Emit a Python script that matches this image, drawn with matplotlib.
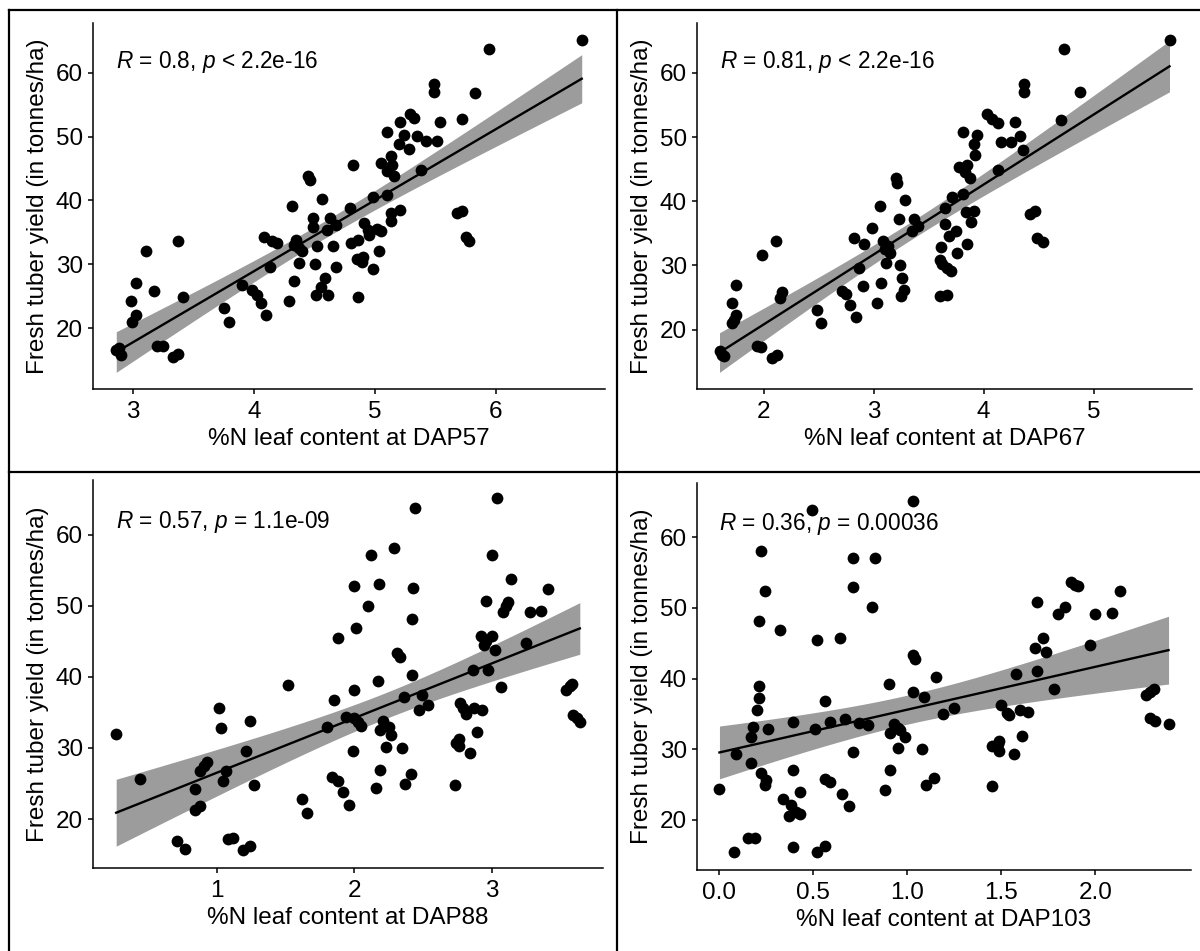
import numpy as np
import matplotlib
matplotlib.use("Agg")
import matplotlib.pyplot as plt
from matplotlib.ticker import FormatStrFormatter
from matplotlib.lines import Line2D
import matplotlib.transforms as mtransforms

plt.rcParams['font.family'] = ['Liberation Sans', 'DejaVu Sans']
plt.rcParams['mathtext.fontset'] = 'custom'
plt.rcParams['mathtext.it'] = 'Liberation Sans:italic'
plt.rcParams['mathtext.rm'] = 'Liberation Sans'

# %N leaf content vs fresh tuber yield
x57 = [2.86, 2.90, 2.88, 2.98, 2.99, 3.02, 3.02, 3.11, 3.17, 3.20,
       3.25, 3.33, 3.37, 3.37, 3.41, 3.75, 3.79, 3.90, 3.98, 4.02,
       4.06, 4.10, 4.08, 4.13, 4.15, 4.19, 4.29, 4.31, 4.33, 4.33,
       4.35, 4.37, 4.40, 4.37, 4.46, 4.45, 4.49, 4.49, 4.50, 4.52,
       4.51, 4.55, 4.56, 4.59, 4.60, 4.61, 4.63, 4.65, 4.68, 4.68,
       4.79, 4.80, 4.82, 4.86, 4.86, 4.85, 4.89, 4.90, 4.91, 4.94,
       4.95, 4.98, 4.98, 5.02, 5.03, 5.05, 5.10, 5.10, 5.13, 5.13,
       5.13, 5.05, 5.10, 5.14, 5.16, 5.21, 5.20, 5.21, 5.24, 5.28,
       5.29, 5.32, 5.35, 5.38, 5.42, 5.51, 5.49, 5.49, 5.54, 5.68,
       5.72, 5.72, 5.75, 5.78, 5.83, 5.94, 6.71]
y57 = [16.5, 15.8, 16.9, 24.2, 21.0, 22.0, 27.0, 32.0, 25.8, 17.2,
       17.2, 15.5, 16.0, 33.7, 24.8, 23.1, 21.0, 26.8, 26.0, 25.2,
       23.9, 22.0, 34.2, 29.6, 33.7, 33.3, 24.2, 39.2, 27.3, 33.0,
       33.8, 32.5, 32.0, 30.2, 43.2, 43.9, 37.2, 35.8, 30.0, 32.8,
       25.2, 26.5, 40.2, 27.8, 35.4, 25.2, 37.2, 32.8, 29.6, 36.2,
       38.8, 33.3, 45.5, 33.8, 24.8, 30.8, 30.4, 31.2, 36.5, 35.4,
       34.6, 40.6, 29.2, 35.6, 32.0, 35.2, 50.7, 40.9, 36.7, 38.0,
       47.0, 45.8, 44.6, 45.6, 43.8, 38.5, 48.8, 52.3, 50.3, 48.0,
       53.6, 52.9, 50.1, 44.8, 49.3, 49.3, 58.2, 57.0, 52.3, 38.0,
       38.4, 52.7, 34.3, 33.6, 56.9, 63.8, 65.2]

x67 = [1.60, 1.62, 1.64, 1.71, 1.71, 1.73, 1.75, 1.75, 1.99, 1.94,
       1.98, 2.08, 2.12, 2.11, 2.15, 2.17, 2.49, 2.52, 2.71, 2.75,
       2.79, 2.84, 2.82, 2.87, 2.90, 2.91, 2.99, 3.03, 3.06, 3.07,
       3.09, 3.10, 3.13, 3.15, 3.11, 3.20, 3.21, 3.23, 3.24, 3.26,
       3.28, 3.25, 3.29, 3.35, 3.37, 3.40, 3.60, 3.60, 3.61, 3.62,
       3.65, 3.65, 3.67, 3.67, 3.69, 3.70, 3.71, 3.75, 3.76, 3.78,
       3.81, 3.81, 3.83, 3.85, 3.84, 3.85, 3.88, 3.89, 3.91, 3.92,
       3.91, 3.94, 4.03, 4.08, 4.13, 4.13, 4.16, 4.25, 4.29, 4.33,
       4.36, 4.37, 4.37, 4.42, 4.47, 4.49, 4.54, 4.70, 4.73, 4.88,
       5.69]
y67 = [16.6, 16.1, 15.8, 24.2, 21.0, 21.5, 22.2, 27.0, 31.7, 17.4,
       17.3, 15.5, 16.0, 33.8, 24.9, 25.8, 23.1, 21.0, 26.0, 25.5,
       23.8, 22.0, 34.3, 29.6, 26.8, 33.3, 35.8, 24.2, 39.3, 27.3,
       33.8, 32.5, 33.0, 32.0, 30.3, 43.7, 42.9, 37.2, 30.0, 28.1,
       26.2, 25.2, 40.2, 35.4, 37.2, 36.2, 25.2, 30.9, 32.8, 30.2,
       39.0, 36.5, 25.4, 29.6, 34.6, 29.2, 40.6, 35.4, 32.0, 45.4,
       50.8, 41.2, 44.6, 45.6, 38.3, 33.3, 43.7, 36.7, 38.5, 47.2,
       49.0, 50.3, 53.6, 52.9, 52.2, 44.8, 49.3, 49.3, 52.3, 50.1,
       48.0, 58.3, 57.0, 38.0, 38.5, 34.3, 33.6, 52.7, 63.8, 57.0,
       65.2]

x88 = [0.27, 0.44, 0.71, 0.77, 0.84, 0.88, 0.84, 0.88, 0.91, 0.93,
       1.02, 1.03, 1.05, 1.07, 1.08, 1.12, 1.19, 1.24, 1.21, 1.24,
       1.27, 1.52, 1.62, 1.66, 1.80, 1.85, 1.84, 1.88, 1.88, 1.92,
       1.94, 1.96, 1.99, 2.00, 2.00, 2.00, 2.01, 2.03, 2.05, 2.10,
       2.12, 2.16, 2.17, 2.18, 2.19, 2.19, 2.21, 2.23, 2.25, 2.27,
       2.29, 2.31, 2.33, 2.35, 2.36, 2.37, 2.41, 2.42, 2.42, 2.43,
       2.44, 2.47, 2.49, 2.54, 2.73, 2.74, 2.76, 2.76, 2.77, 2.79,
       2.81, 2.84, 2.86, 2.87, 2.89, 2.93, 2.92, 2.94, 2.96, 2.96,
       2.97, 3.00, 3.00, 3.02, 3.04, 3.07, 3.08, 3.10, 3.12, 3.14,
       3.25, 3.28, 3.36, 3.41, 3.54, 3.57, 3.58, 3.59, 3.62, 3.64]
y88 = [32.0, 25.7, 16.9, 15.8, 21.3, 21.9, 24.2, 26.8, 27.5, 28.0,
       35.6, 32.8, 25.3, 26.7, 17.2, 17.4, 15.6, 16.2, 29.6, 33.8,
       24.8, 38.8, 22.8, 20.9, 32.9, 36.7, 25.9, 45.5, 25.4, 23.8,
       34.3, 22.0, 29.6, 52.8, 38.2, 34.2, 46.9, 33.6, 33.1, 50.0,
       57.2, 24.3, 39.4, 53.1, 26.9, 32.5, 33.8, 30.2, 33.0, 31.8,
       58.1, 43.4, 42.8, 30.0, 37.2, 24.9, 26.3, 48.1, 40.3, 52.5,
       63.8, 35.3, 37.5, 36.1, 24.8, 30.7, 31.2, 30.3, 36.3, 35.6,
       34.8, 29.3, 41.0, 35.6, 32.3, 35.3, 45.7, 44.5, 45.0, 50.7,
       41.0, 57.2, 45.8, 43.8, 65.2, 38.6, 49.1, 50.0, 50.5, 53.7,
       44.8, 49.1, 49.3, 52.4, 38.2, 38.7, 39.0, 34.7, 34.2, 33.6]

x103 = [0.00, 0.08, 0.09, 0.15, 0.19, 0.17, 0.17, 0.18, 0.20, 0.21,
        0.21, 0.21, 0.22, 0.24, 0.22, 0.25, 0.24, 0.26, 0.32, 0.34,
        0.37, 0.38, 0.39, 0.39, 0.39, 0.41, 0.43, 0.43, 0.49, 0.51,
        0.52, 0.52, 0.56, 0.56, 0.56, 0.59, 0.59, 0.64, 0.65, 0.67,
        0.69, 0.71, 0.71, 0.71, 0.74, 0.79, 0.81, 0.83, 0.88, 0.90,
        0.91, 0.91, 0.93, 0.95, 0.96, 0.95, 0.99, 1.03, 1.03, 1.04,
        1.03, 1.08, 1.09, 1.10, 1.14, 1.15, 1.19, 1.25, 1.45, 1.45,
        1.48, 1.49, 1.49, 1.50, 1.53, 1.54, 1.57, 1.58, 1.60, 1.61,
        1.64, 1.68, 1.69, 1.69, 1.72, 1.74, 1.78, 1.80, 1.84, 1.87,
        1.89, 1.91, 1.97, 2.00, 2.09, 2.13, 2.27, 2.29, 2.31, 2.29,
        2.32, 2.39]
y103 = [24.4, 15.4, 29.3, 17.4, 17.4, 28.0, 31.7, 33.2, 35.5, 37.2,
        38.9, 48.1, 58.1, 52.4, 26.6, 25.7, 24.9, 32.9, 46.9, 22.9,
        20.6, 22.1, 27.1, 33.8, 16.2, 21.1, 24.0, 20.9, 63.9, 32.9,
        15.4, 45.4, 16.3, 36.8, 25.8, 25.3, 33.8, 45.7, 23.7, 34.3,
        21.9, 57.1, 52.9, 29.6, 33.7, 33.4, 50.1, 57.1, 24.3, 39.3,
        27.1, 32.3, 33.6, 33.0, 32.7, 30.2, 31.7, 38.1, 43.4, 42.8,
        65.2, 30.0, 37.4, 25.0, 26.0, 40.3, 35.0, 35.9, 24.8, 30.5,
        30.7, 29.8, 31.1, 36.3, 35.2, 34.8, 29.3, 40.7, 35.5, 31.9,
        35.3, 44.3, 50.8, 41.1, 45.7, 43.8, 38.6, 49.1, 50.2, 53.7,
        53.3, 53.1, 44.8, 49.1, 49.3, 52.4, 37.7, 38.1, 38.6, 34.4,
        34.0, 33.6]

xlabels = ['%N leaf content at DAP57', '%N leaf content at DAP67',
           '%N leaf content at DAP88', '%N leaf content at DAP103']
stats = [r'$\mathit{R}$ = 0.8, $\mathit{p}$ < 2.2e-16',
         r'$\mathit{R}$ = 0.81, $\mathit{p}$ < 2.2e-16',
         r'$\mathit{R}$ = 0.57, $\mathit{p}$ = 1.1e-09',
         r'$\mathit{R}$ = 0.36, $\mathit{p}$ = 0.00036']
xticks = [[3, 4, 5, 6], [2, 3, 4, 5], [1, 2, 3], [0.0, 0.5, 1.0, 1.5, 2.0]]
xfmts = ['%d', '%d', '%d', '%.1f']
yticks = [20, 30, 40, 50, 60]
ylab = 'Fresh tuber yield (in tonnes/ha)'

W, H = 1200, 951
fig = plt.figure(figsize=(W / 100, H / 100), dpi=100)

# axes boxes in pixels: left, right, top, bottom
boxes = [(93, 605, 23, 389), (697, 1192, 23, 389),
         (93, 603, 480, 868), (697, 1191, 483, 870)]

datasets = [(x57, y57), (x67, y67), (x88, y88), (x103, y103)]

for i, (xs, ys) in enumerate(datasets):
    xs = np.array(xs)
    ys = np.array(ys)
    l, r, t, b = boxes[i]
    ax = fig.add_axes([l / W, 1 - b / H, (r - l) / W, (b - t) / H])

    # linear fit with 95% confidence band
    n = len(xs)
    slope, icpt = np.polyfit(xs, ys, 1)
    xg = np.linspace(xs.min(), xs.max(), 80)
    yg = icpt + slope * xg
    resid = ys - (icpt + slope * xs)
    s = np.sqrt(np.sum(resid ** 2) / (n - 2))
    sxx = np.sum((xs - xs.mean()) ** 2)
    se = s * np.sqrt(1 / n + (xg - xs.mean()) ** 2 / sxx)
    lo = yg - 1.984 * se
    hi = yg + 1.984 * se

    ax.fill_between(xg, lo, hi, color='#9c9c9c', linewidth=0, zorder=1)
    ax.plot(xg, yg, color='black', lw=1.7, zorder=2)
    ax.scatter(xs, ys, s=72, color='black', linewidths=0, zorder=3)

    xr = xs.max() - xs.min()
    ax.set_xlim(xs.min() - 0.05 * xr, xs.max() + 0.05 * xr)
    ymin = min(ys.min(), lo.min())
    ymax = max(ys.max(), hi.max())
    yr = ymax - ymin
    ax.set_ylim(ymin - 0.05 * yr, ymax + 0.05 * yr)

    ax.set_xticks(xticks[i])
    ax.xaxis.set_major_formatter(FormatStrFormatter(xfmts[i]))
    ax.set_yticks(yticks)

    for sp in ['top', 'right']:
        ax.spines[sp].set_visible(False)
    for sp in ['left', 'bottom']:
        ax.spines[sp].set_linewidth(1.1)
    ax.tick_params(axis='both', length=3.3, width=1.1, labelsize=17.5,
                   colors='black')
    ax.tick_params(axis='x', pad=5)
    ax.tick_params(axis='y', pad=4)

    ax.set_xlabel(xlabels[i], fontsize=17.5, labelpad=4)
    ax.set_ylabel(ylab, fontsize=17.5, labelpad=5)

    trans = mtransforms.blended_transform_factory(ax.transData, ax.transAxes)
    ax.text(xs.min(), 0.893, stats[i], transform=trans, fontsize=16.3,
            ha='left', va='center')

# panel frame lines
def fline(x0, y0, x1, y1):
    fig.add_artist(Line2D([x0 / W, x1 / W], [1 - y0 / H, 1 - y1 / H],
                          color='black', lw=1.6))

fline(9, 10, 1200, 10)
fline(9, 10, 9, 951)
fline(617, 10, 617, 951)
fline(9, 472, 1200, 472)

fig.savefig('out.png', dpi=100)
